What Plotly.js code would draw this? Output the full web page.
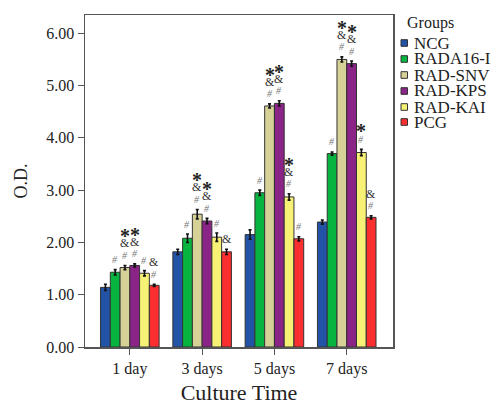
<!DOCTYPE html>
<html><head><meta charset="utf-8">
<script src="https://cdn.plot.ly/plotly-3.0.1.min.js"></script>
<style>body{margin:0;background:#fff}#chart{width:493px;height:407px}</style>
</head><body><div id="chart"></div>
<script>
const categories = ["1 day", "3 days", "5 days", "7 days"];
const groups = ["NCG", "RADA16-I", "RAD-SNV", "RAD-KPS", "RAD-KAI", "PCG"];
const colors = ["#2353a6", "#07b43f", "#d6d197", "#8a2487", "#f7f276", "#fb2f2f"];
const NCG = [1.14, 1.82, 2.15, 2.39];
const RADA16I = [1.43, 2.08, 2.95, 3.70];
const RADSNV = [1.52, 2.54, 4.61, 5.50];
const RADKPS = [1.56, 2.41, 4.66, 5.42];
const RADKAI = [1.41, 2.10, 2.87, 3.72];
const PCG = [1.18, 1.82, 2.07, 2.48];
const errNCG = [0.06, 0.05, 0.09, 0.04];
const errRADA16I = [0.05, 0.08, 0.05, 0.03];
const errRADSNV = [0.04, 0.09, 0.04, 0.05];
const errRADKPS = [0.03, 0.05, 0.05, 0.05];
const errRADKAI = [0.05, 0.08, 0.06, 0.06];
const errPCG = [0.02, 0.05, 0.04, 0.03];
const marksNCG = ["", "", "", ""];
const marksRADA16I = ["#", "#", "#", "#"];
const marksRADSNV = ["*&#", "*&#", "*&#", "*&#"];
const marksRADKPS = ["*&#", "*&#", "*&#", "*&#"];
const marksRADKAI = ["#", "#", "*&#", "*#"];
const marksPCG = ["&#", "&", "#", "&#"];

const values = [NCG, RADA16I, RADSNV, RADKPS, RADKAI, PCG];
const errs = [errNCG, errRADA16I, errRADSNV, errRADKPS, errRADKAI, errPCG];
const marks = [marksNCG, marksRADA16I, marksRADSNV, marksRADKPS, marksRADKAI, marksPCG];

const font = "'Liberation Serif', 'Times New Roman', Times, serif";
const groupWidth = 0.81;
const barW = groupWidth / groups.length;

const traces = groups.map((g, i) => ({
  type: "bar", name: g, x: categories, y: values[i], showlegend: false,
  marker: {color: colors[i], line: {color: "#333", width: 1}},
  error_y: {type: "data", array: errs[i], color: "#111", thickness: 1.6, width: 1.5}
}));

const annotations = [];
const shapes = [];
const symStyle = {
  "#": {size: 10, color: "#777", text: "<i>#</i>"},
  "&": {size: 12, color: "#333", text: "&"},
  "*": {size: 20, color: "#222", text: "<b>*</b>"}
};
marks.forEach((m, gi) => {
  m.forEach((str, ci) => {
    const chars = str.split("").reverse();
    chars.forEach((ch, k) => {
      const st = symStyle[ch];
      let shift = [10, 22, 33][k];
      if (ch === "*") shift = (k === 1 ? 18 : 29);
      annotations.push({
        x: ci - groupWidth / 2 + barW * (gi + 0.5), y: values[gi][ci] + errs[gi][ci],
        xref: "x", yref: "y", text: st.text, showarrow: false,
        yanchor: "middle", yshift: shift,
        font: {family: font, size: st.size, color: st.color}
      });
    });
  });
});

// custom legend (paper coords)
const plotL = 85, plotW = 308, plotT = 15, plotH = 332;
const px = (p) => (p - plotL) / plotW;
const py = (p) => (plotT + plotH - p) / plotH;
annotations.push({
  xref: "paper", yref: "paper", x: px(405), y: py(23), xanchor: "left", yanchor: "middle",
  text: "Groups", showarrow: false, font: {family: font, size: 16, color: "#222"}
});
const rowY = [43, 59, 75, 91, 107, 122];
groups.forEach((g, i) => {
  shapes.push({
    type: "rect", xref: "paper", yref: "paper",
    x0: px(401), x1: px(407.5), y0: py(rowY[i] - 3.3), y1: py(rowY[i] + 3.3),
    fillcolor: colors[i], line: {color: "#333", width: 1}
  });
  annotations.push({
    xref: "paper", yref: "paper", x: px(412), y: py(rowY[i]), xanchor: "left", yanchor: "middle",
    text: g, showarrow: false, font: {family: font, size: 17, color: "#222"}
  });
});

const layout = {
  width: 493, height: 407,
  margin: {l: 85, r: 100, t: 15, b: 60, autoexpand: false},
  paper_bgcolor: "#fff", plot_bgcolor: "#fff",
  barmode: "group", bargap: 1 - groupWidth, bargroupgap: 0,
  font: {family: font, color: "#222"},
  xaxis: {
    type: "category", range: [-0.62, 3.64], showline: true, mirror: true, linecolor: "#555", linewidth: 1.5,
    ticks: "outside", ticklen: 6, tickcolor: "#555", tickfont: {size: 16, family: font, color: "#222"},
    title: {text: "Culture Time", font: {size: 22, family: font, color: "#222"}, standoff: 8}, showgrid: false, zeroline: false
  },
  yaxis: {
    range: [0, 6.35], tickvals: [0, 1, 2, 3, 4, 5, 6], tickformat: ".2f",
    showline: true, mirror: true, linecolor: "#555", linewidth: 1.5,
    ticks: "outside", ticklen: 6, tickcolor: "#555", tickfont: {size: 16, family: font, color: "#222"},
    title: {text: "O.D.", font: {size: 18, family: font, color: "#222"}, standoff: 14}, showgrid: false, zeroline: false
  },
  annotations: annotations,
  shapes: shapes,
  showlegend: false
};
Plotly.newPlot("chart", traces, layout, {displayModeBar: false, staticPlot: true});
</script></body></html>
